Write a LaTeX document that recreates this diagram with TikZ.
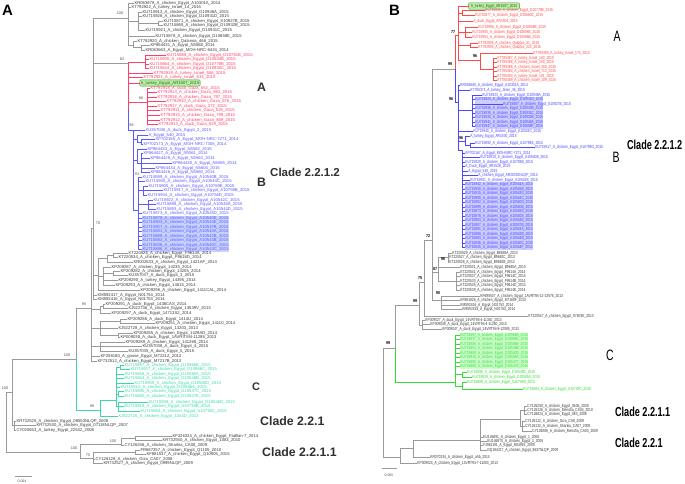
\documentclass[tikz,border=0pt]{standalone}
\usepackage{fontspec}
\setmainfont{Liberation Sans}
\definecolor{lgray}{HTML}{9A9A9A}
\definecolor{txk}{HTML}{3C3C3C}
\definecolor{rA}{HTML}{FF4068}
\definecolor{bA}{HTML}{5A5AFF}
\definecolor{gA}{HTML}{3ADBA6}
\definecolor{rB}{HTML}{FF4A4A}
\definecolor{bB}{HTML}{4848FF}
\definecolor{gB}{HTML}{33DD33}
\definecolor{hlb}{HTML}{C8D2FF}
\definecolor{hlbB}{HTML}{CDCDFF}
\definecolor{hlg}{HTML}{CCFFCC}
\definecolor{boxg}{HTML}{B7EFA3}
\definecolor{boxd}{HTML}{4E8A3A}
\definecolor{bst}{HTML}{505050}
\definecolor{cl}{HTML}{303030}
\tikzset{
 lkA/.style={draw=lgray,line width=0.35pt}, lrA/.style={draw=rA,line width=0.35pt},
 lbA/.style={draw=bA,line width=0.35pt}, lgA/.style={draw=gA,line width=0.35pt},
 lkB/.style={draw=lgray,line width=0.35pt}, lrB/.style={draw=rB,line width=0.35pt},
 lbB/.style={draw=bB,line width=0.35pt}, lgB/.style={draw=gB,line width=0.35pt},
 tA/.style={anchor=west,inner sep=0.3pt,font=\fontsize{4.2}{4.2}\selectfont},
 tB/.style={anchor=west,inner sep=0.3pt,font=\fontsize{4.4}{4.4}\selectfont,xscale=0.75},
 ckA/.style={text=txk}, crA/.style={text=rA}, cbA/.style={text=bA}, cgA/.style={text=gA},
 ckB/.style={text=txk}, crB/.style={text=rB}, cbB/.style={text=bB}, cgB/.style={text=gB},
 bsA/.style={font=\fontsize{3.8}{3.8}\selectfont,text=bst,inner sep=0pt},
 bsB/.style={font=\bfseries\fontsize{4.2}{4.2}\selectfont,text=black,inner sep=0pt,xscale=0.85},
 panel/.style={font=\bfseries\fontsize{15}{15}\selectfont,anchor=west,inner sep=0pt,text=black},
 cladeA/.style={font=\bfseries\fontsize{12.3}{12.3}\selectfont,text=cl,anchor=west,inner sep=0pt},
 cladeB/.style={font=\bfseries\fontsize{13}{13}\selectfont,xscale=0.7,anchor=west,inner sep=0pt,text=black},
 letB/.style={font=\fontsize{15}{15}\selectfont,xscale=0.7,inner sep=0pt,text=black},
 boxA/.style={fill=boxg,draw=boxd,line width=0.4pt,rounded corners=1pt,inner xsep=0.8pt,inner ysep=1.2pt,text=boxd!70!black,anchor=west},
}
\newcounter{lfn}
% #1 panel, #2 colour key, #3 parent x, #4 text x, #5 y, #6 text
\newcommand\tleaf[6]{\stepcounter{lfn}\coordinate (p\thelfn) at (#3,#5);\node[t#1,c#2#1] (l\thelfn) at (#4,#5) {#6};\draw[l#2#1] (p\thelfn) -- (l\thelfn.west);}
% #1 name, #2 style, #3 x, #4 y1, #5 y2
\newcommand\tver[5]{\coordinate (#1t) at (#3,#4);\coordinate (#1b) at (#3,#5);\draw[#2] (#1t) -- (#1b);}
% #1 name, #2 style, #3 x1, #4 x2, #5 y
\newcommand\thor[5]{\coordinate (#1a) at (#3,#5);\coordinate (#1c) at (#4,#5);\draw[#2] (#1a) -- (#1c);}
\catcode`\_=12
\begin{document}
\begin{tikzpicture}[x=1pt,y=-1pt]
\useasboundingbox[fill=white] (0,0) rectangle (685,483);
% ---------------- highlights
\fill[hlb] (141.5,215.8) rectangle (229,251.8);
\fill[hlbB] (474.5,97.3) rectangle (543,128.8);
\fill[hlbB] (464.5,182.3) rectangle (533,249.8);
\fill[hlg] (459.5,332.8) rectangle (528,368.8);
% ================= PANEL A =================
\node[panel] (pA) at (2,10.5) {A};
\tver{Ra}{lkA}{6}{392}{452}
\tver{Na}{lkA}{12}{359}{425}
\tver{Nk}{lkA}{14}{421}{430}
\tver{Nc}{lkA}{76}{308}{359}
\tver{Ncg}{lgA}{76}{359}{410}
\tver{N95}{lkA}{91}{228}{361}
\tver{N70}{lkA}{93}{18}{299.5}
\tver{NT}{lkA}{128}{3}{45}
\tver{n3}{lkA}{138}{12.5}{30}
\tver{n5}{lkA}{158}{21}{25}
\tver{n9}{lkA}{133}{41}{47.5}
\tver{n10}{lkA}{141}{45}{50}
\tver{NR}{lrA}{128}{62}{110}
\tver{NRb}{lbA}{128}{110}{130}
\tver{r1}{lrA}{145}{55}{68.5}
\tver{R86}{lrA}{147}{88}{124.5}
\tver{B96}{lbA}{133}{130}{210}
\tver{b2}{lbA}{137}{135}{141.75}
\tver{b3}{lbA}{141}{139.5}{144}
\tver{b4}{lbA}{137}{149}{163}
\tver{b5}{lbA}{141}{153.5}{172.5}
\tver{B91}{lbA}{138}{177}{249.5}
\tver{b6}{lbA}{143}{186}{195}
\tver{b7}{lbA}{148}{200}{209}
\tver{K1}{lkA}{98}{258}{290}
\tver{K2}{lkA}{107}{255}{262}
\tver{K3}{lkA}{113}{253}{257}
\tver{K4}{lkA}{103}{267}{285}
\tver{K5}{lkA}{113}{271}{275.5}
\tver{K6}{lkA}{100}{306}{313}
\tver{K7}{lkA}{103}{304}{308.5}
\tver{K8}{lkA}{100}{321}{335}
\tver{K9}{lkA}{120}{319}{323.5}
\tver{K10}{lkA}{118}{333}{337.5}
\tver{K11}{lkA}{100}{342}{351}
\tver{G98}{lgA}{100}{400}{416}
\tver{G1}{lgA}{116}{367}{406.5}
\tver{ga}{lgA}{120}{365}{369.5}
\tver{gb}{lgA}{118}{391.5}{396}
\tver{gc}{lgA}{118}{402}{411}
\tver{N2211}{lkA}{80}{444}{458}
\tver{Nu}{lkA}{121}{438}{445.5}
\tver{Nv}{lkA}{135}{436}{440.5}
\tver{N75}{lkA}{93}{452}{463.5}
\tver{Nw}{lkA}{135}{450}{454.5}
\thor{jRaNa}{lkA}{6}{12}{392}
\thor{jRaN2211}{lkA}{6}{80}{452}
\thor{jNaNk}{lkA}{12}{14}{425}
\thor{jNaNc}{lkA}{12}{76}{359}
\thor{jNcN95}{lkA}{76}{91}{308}
\thor{jNcG98}{lgA}{76}{100}{410}
\thor{jN95N70}{lkA}{91}{93}{228}
\thor{jN95K6}{lkA}{91}{100}{309}
\thor{jN95K8}{lkA}{91}{100}{328}
\thor{jN95K11}{lkA}{91}{100}{346.5}
\thor{jN70NT}{lkA}{93}{128}{18}
\thor{jN70NR}{lkA}{93}{128}{63}
\thor{jN70K1}{lkA}{93}{98}{275}
\thor{jNTn3}{lkA}{128}{138}{21}
\thor{jn3n5}{lkA}{138}{158}{23}
\thor{jNTn9}{lkA}{128}{133}{45}
\thor{jn9n10}{lkA}{133}{141}{47.5}
\thor{jNRr1}{lrA}{128}{145}{62}
\thor{jNRR86}{lrA}{128}{147}{102}
\thor{jNRB96}{lbA}{128}{133}{130}
\thor{jB96b2}{lbA}{133}{137}{139}
\thor{jb2b3}{lbA}{137}{141}{141.75}
\thor{jB96b4}{lbA}{133}{137}{160}
\thor{jb4b5}{lbA}{137}{141}{163}
\thor{jB96B91}{lbA}{133}{138}{210}
\thor{jB91b6}{lbA}{138}{143}{190.5}
\thor{jB91b7}{lbA}{138}{148}{204.5}
\thor{jK1K2}{lkA}{98}{107}{258}
\thor{jK2K3}{lkA}{107}{113}{255}
\thor{jK1K4}{lkA}{98}{103}{276}
\thor{jK4K5}{lkA}{103}{113}{273}
\thor{jK6K7}{lkA}{100}{103}{306}
\thor{jK8K9}{lkA}{100}{120}{321}
\thor{jK8K10}{lkA}{100}{118}{335}
\thor{jG98G1}{lgA}{100}{116}{400}
\thor{jG1ga}{lgA}{116}{120}{367}
\thor{jG1gb}{lgA}{116}{118}{394}
\thor{jG1gc}{lgA}{116}{118}{406.5}
\thor{jN2211Nu}{lkA}{80}{121}{444}
\thor{jNuNv}{lkA}{121}{135}{438}
\thor{jN2211N75}{lkA}{80}{93}{458}
\thor{jN75Nw}{lkA}{93}{135}{452}
% leaves A
\tleaf{A}{k}{128}{134}{3}{KR063678_A_chicken_Egypt_A10301A_2014}
\tleaf{A}{k}{128}{131}{7.5}{KT792922_A_turkey_Israel_14_2015}
\tleaf{A}{k}{138}{142}{12.5}{KU715913_A_chicken_Egypt_D10946A_2015}
\tleaf{A}{k}{138}{142}{16.5}{KU715926_A_chicken_Egypt_D10931D_2015}
\tleaf{A}{k}{158}{163}{21}{KU715871_A_chicken_Egypt_S10927B_2015}
\tleaf{A}{k}{158}{163}{25}{KU715865_A_chicken_Egypt_D10932B_2015}
\tleaf{A}{k}{138}{145}{30}{KU715921_A_chicken_Egypt_D10931C_2015}
\tleaf{A}{k}{128}{155}{36}{KU715878_A_chicken_Egypt_D10658E_2015}
\tleaf{A}{k}{133}{137}{41}{KT792920_A_chicken_Qalanna_466_2015}
\tleaf{A}{k}{141}{150}{45}{KP864431_A_Egypt_N5568_2014}
\tleaf{A}{k}{141}{145}{50}{KR063663_A_Egypt_MOH-NRC-8434_2014}
\tleaf{A}{r}{145}{166}{55}{KU715868_A_chicken_Egypt_D10781B_2015}
\tleaf{A}{r}{145}{149}{59.5}{KU715900_A_chicken_Egypt_D10534B_2015}
\tleaf{A}{r}{145}{149}{64}{KU715864_A_chicken_Egypt_D10778B_2015}
\tleaf{A}{r}{145}{149}{68.5}{KU715844_A_chicken_Egypt_D10930C_2015}
\tleaf{A}{r}{128}{153}{73}{KT792919_A_turkey_Israel_556_2015}
\tleaf{A}{r}{128}{143}{77.5}{KT792921_A_turkey_Israel_633_2015}
\coordinate (boxAp) at (128,83);
\node[tA,boxA] (boxAl) at (139.5,83) {A_turkey_Egypt_AR1507_2015};
\draw[lrA] (boxAp) -- (boxAl.west);
\tleaf{A}{r}{147}{150}{88}{KT792918_A_duck_Gaza_552_2015}
\tleaf{A}{r}{147}{157}{92.5}{KT792914_A_chicken_Gaza_863_2015}
\tleaf{A}{r}{147}{157}{97}{KT792916_A_chicken_Gaza_797_2015}
\tleaf{A}{r}{147}{166}{101.5}{KT792910_A_chicken_Gaza_876_2015}
\tleaf{A}{r}{147}{157}{106}{KT792917_A_duck_Gaza_372_2015}
\tleaf{A}{r}{147}{160}{110.5}{KT792911_A_chicken_Gaza_535_2015}
\tleaf{A}{r}{147}{160}{115}{KT792915_A_chicken_Gaza_799_2015}
\tleaf{A}{r}{147}{160}{120}{KT792912_A_chicken_Gaza_869_2015}
\tleaf{A}{r}{147}{158}{124.5}{KT792913_A_duck_Gaza_829_2015}
\tleaf{A}{b}{133}{145}{130}{KU357036_A_duck_Egypt_2_2015}
\tleaf{A}{b}{137}{148}{135}{A_Egypt_540_2015}
\tleaf{A}{b}{141}{155}{139.5}{KP702165_A_Egypt_MOH-NRC-7271_2014}
\tleaf{A}{b}{141}{143}{144}{KP702173_A_Egypt_MOH-NRC-7305_2014}
\tleaf{A}{b}{137}{147}{149}{KP864433_A_Egypt_N5562_2015}
\tleaf{A}{b}{141}{143}{153.5}{KP864427_A_Egypt_N5561_2014}
\tleaf{A}{b}{141}{150}{158}{KP864428_A_Egypt_N5563_2014}
\tleaf{A}{b}{141}{172}{163}{KP864430_A_Egypt_N5565_2014}
\tleaf{A}{b}{141}{155}{168}{KP864434_A_Egypt_N5604_2015}
\tleaf{A}{b}{141}{150}{172.5}{KP864426_A_Egypt_N5560_2014}
\tleaf{A}{b}{138}{142}{177}{KU715899_A_chicken_Egypt_A10540B_2015}
\tleaf{A}{b}{138}{145}{181.5}{KU715945_A_chicken_Egypt_A10544C_2015}
\tleaf{A}{b}{143}{148}{186}{KU715905_A_chicken_Egypt_A10769E_2015}
\tleaf{A}{b}{143}{163}{190.5}{KU715917_A_chicken_Egypt_A10758B_2015}
\tleaf{A}{b}{143}{147}{195}{KU715934_A_chicken_Egypt_A10756D_2015}
\tleaf{A}{b}{148}{153}{200}{KU715922_A_chicken_Egypt_A10542C_2015}
\tleaf{A}{b}{148}{156}{204.5}{KU715898_A_chicken_Egypt_A10545A_2015}
\tleaf{A}{b}{148}{156}{209}{KU715893_A_chicken_Egypt_A10544D_2015}
\tleaf{A}{b}{138}{142}{213.5}{KU715873_A_chicken_Egypt_A10545D_2015}
\tleaf{A}{b}{138}{142}{218}{KU715878_A_chicken_Egypt_A10540E_2015}
\tleaf{A}{b}{138}{142}{222.5}{KU715903_A_chicken_Egypt_A10544E_2015}
\tleaf{A}{b}{138}{142}{227}{KU715907_A_chicken_Egypt_A10537B_2015}
\tleaf{A}{b}{138}{142}{231.5}{KU715881_A_chicken_Egypt_A10543A_2015}
\tleaf{A}{b}{138}{142}{236}{KU715888_A_chicken_Egypt_A10542B_2015}
\tleaf{A}{b}{138}{142}{240.5}{KU715883_A_chicken_Egypt_A10544B_2015}
\tleaf{A}{b}{138}{142}{245}{KU715836_A_chicken_Egypt_A10540C_2015}
\tleaf{A}{b}{138}{142}{249.5}{KU715886_A_chicken_Egypt_A10543C_2015}
\tleaf{A}{k}{113}{128}{253}{KT220526_A_chicken_Egypt_F9614A_2014}
\tleaf{A}{k}{113}{118}{257}{KT220534_A_chicken_Egypt_F9616D_2014}
\tleaf{A}{k}{107}{133}{262}{KR002633_A_chicken_Egypt_1421AF_2014}
\tleaf{A}{k}{103}{111}{267}{KP209287_A_chicken_Egypt_14235_2014}
\tleaf{A}{k}{113}{120}{271}{KP209282_A_chicken_Egypt_14205_2014}
\tleaf{A}{k}{113}{128}{275.5}{KU357037_A_duck_Egypt_3_2015}
\tleaf{A}{k}{103}{118}{280}{KP209290_A_turkey_Egypt_14395_2014}
\tleaf{A}{k}{103}{115}{285}{KP209293_A_chicken_Egypt_14615_2014}
\tleaf{A}{k}{98}{140}{290}{KP209296_A_chicken_Egypt_1411CAL_2014}
\tleaf{A}{k}{93}{97}{295}{KM592417_A_Egypt_N01754_2014}
\tleaf{A}{k}{93}{97}{299.5}{KM592416_A_Egypt_N01753_2014}
\tleaf{A}{k}{103}{105}{304}{KP209291_A_duck_Egypt_1436CAS_2014}
\tleaf{A}{k}{103}{128}{308.5}{KJ522736_A_chicken_Egypt_13639V_2013}
\tleaf{A}{k}{100}{111}{313}{KP209297_A_duck_Egypt_14713S2_2014}
\tleaf{A}{k}{120}{127}{319}{KP209286_A_duck_Egypt_1414U_2014}
\tleaf{A}{k}{120}{155}{323.5}{KP209251_A_chicken_Egypt_14110_2014}
\tleaf{A}{k}{100}{118}{328}{KJ522728_A_chicken_Egypt_13203_2013}
\tleaf{A}{k}{118}{133}{333}{KP209285_A_chicken_Egypt_1429AD_2014}
\tleaf{A}{k}{118}{120}{337.5}{KP009038_A_duck_Egypt_1AVRITM4-11288_2013}
\tleaf{A}{k}{100}{125}{342}{KP209289_A_chicken_Egypt_141268_2014}
\tleaf{A}{k}{100}{142}{346.5}{KU357038_A_duck_Egypt_4_2015}
\tleaf{A}{k}{100}{128}{351}{KU357035_A_duck_Egypt_5_2015}
\tleaf{A}{k}{91}{100}{356.5}{KF258180_A_goose_Egypt_M7221Z_2013}
\tleaf{A}{k}{91}{97}{361}{KF732512_A_chicken_Egypt_M7217B_2013}
\tleaf{A}{g}{120}{124}{365}{KU715897_A_chicken_Egypt_D10966E_2015}
\tleaf{A}{g}{120}{130}{369.5}{KU715937_A_chicken_Egypt_D10966C_2015}
\tleaf{A}{g}{116}{124}{374}{KU715858_A_chicken_Egypt_D10585A_2015}
\tleaf{A}{g}{116}{124}{378.5}{KU715854_A_chicken_Egypt_D10548B_2015}
\tleaf{A}{g}{116}{134}{383}{KU715909_A_chicken_Egypt_D10580D_2015}
\tleaf{A}{g}{116}{120}{387.5}{KU715910_A_chicken_Egypt_D10586A_2015}
\tleaf{A}{g}{118}{124}{391.5}{KU715890_A_chicken_Egypt_D10547C_2015}
\tleaf{A}{g}{118}{124}{396}{KU715860_A_chicken_Egypt_D10547E_2015}
\tleaf{A}{g}{118}{148}{402}{KU715938_A_chicken_Egypt_D10546D_2015}
\tleaf{A}{g}{118}{124}{406.5}{KU715919_A_chicken_Egypt_S10738B_2015}
\tleaf{A}{g}{118}{140}{411}{KU715884_A_chicken_Egypt_S10736C_2015}
\tleaf{A}{g}{100}{118}{416}{KJ522726_A_chicken_Egypt_1344D_2013}
\tleaf{A}{k}{14}{16}{421}{KR732525_A_chicken_Egypt_08553NLQP_2008}
\tleaf{A}{k}{14}{36}{425.5}{KR732530_A_chicken_Egypt_07118NLQP_2007}
\tleaf{A}{k}{14}{16}{430}{CY020653_A_turkey_Egypt_22532_2008}
\tleaf{A}{k}{135}{172}{436}{KF326324_A_chicken_Egypt_Fadllan-7_2014}
\tleaf{A}{k}{135}{162}{440.5}{KR732550_A_chicken_Egypt_1083_2010}
\tleaf{A}{k}{121}{124}{445.5}{CY126256_A_chicken_Sharkia_CA08_2009}
\tleaf{A}{k}{135}{140}{450}{FR687257_A_chicken_Egypt_Q1105_2010}
\tleaf{A}{k}{135}{146}{454.5}{KF881537_A_chicken_Egypt_Q10905_2015}
\tleaf{A}{k}{93}{95}{459}{CY126128_A_chicken_Giza_CA07_2008}
\tleaf{A}{k}{93}{103}{463.5}{KR732527_A_chicken_Egypt_0999NLQP_2009}
% bootstrap A
\node[bsA] (ba1) at (120,13) {100};
\node[bsA] (ba2) at (122,59) {82};
\node[bsA] (ba3) at (141,98) {86};
\node[bsA] (ba4) at (131.5,125.5) {96};
\node[bsA] (ba5) at (137,174) {91};
\node[bsA] (ba6) at (98,223) {70};
\node[bsA] (ba7) at (84,304) {95};
\node[bsA] (ba8) at (67,355) {100};
\node[bsA] (ba9) at (5,388) {100};
\node[bsA] (ba10) at (92,406) {98};
\node[bsA] (ba11) at (113,441) {100};
\node[bsA] (ba12) at (74,448) {100};
\node[bsA] (ba13) at (88,455) {75};
% clade labels A
\node[cladeA] (cA) at (257,87.5) {A};
\node[cladeA] (cB) at (257,182) {B};
\node[cladeA,font=\bfseries\fontsize{11.5}{11.5}\selectfont] (c2212) at (270,172) {Clade 2.2.1.2};
\node[cladeA,font=\bfseries\fontsize{11}{11}\selectfont] (cC) at (252,387) {C};
\node[cladeA] (c221) at (260,421.5) {Clade 2.2.1};
\node[cladeA] (c2211) at (262,452) {Clade 2.2.1.1};
% scale bar A
\coordinate (sA1) at (15,476); \coordinate (sA2) at (32,476);
\draw[lkA,line width=0.5pt] (sA1) -- (sA2);
\node[bsA,font=\fontsize{3.5}{3.5}\selectfont] (sAt) at (22,481) {0.004};
% ================= PANEL B =================
\node[panel] (pB) at (389,10.5) {B};
\tver{RtB}{lkB}{383}{348}{457}
\tver{N1}{lkB}{395}{305}{348}
\tver{N1g}{lgB}{395}{348}{382}
\tver{N2}{lkB}{419}{282}{325}
\tver{N3}{lkB}{424}{240}{316}
\tver{N4}{lkB}{432}{69}{300}
\tver{RBr}{lrB}{455}{35}{69}
\tver{RBb}{lbB}{455}{69}{102}
\tver{R77}{lrB}{458}{6}{60}
\tver{r1B}{lrB}{462}{10.5}{15}
\tver{r2B}{lrB}{465}{27}{37}
\tver{rqB}{lrB}{470}{43}{47.5}
\tver{R96r}{lrB}{480}{53.5}{69}
\tver{riB}{lrB}{493}{58}{80.5}
\tver{B96B}{lbB}{458}{85}{150}
\tver{bb1}{lbB}{472}{95}{126.5}
\tver{b96b}{lbB}{465}{136.5}{145.25}
\tver{bb2}{lbB}{470}{143}{147.5}
\tver{BL}{lbB}{462}{150}{247.5}
\tver{n87}{lkB}{438}{257.5}{281}
\tver{n96k}{lkB}{448}{253}{262}
\tver{nF}{lkB}{456}{272}{290}
\tver{n90}{lkB}{441}{296}{309.5}
\tver{Nd}{lkB}{422}{320}{329}
\tver{Gg}{lgB}{455}{335}{386}
\tver{g1}{lgB}{462}{372}{377}
\tver{g2}{lgB}{462}{382}{389.5}
\tver{M1}{lkB}{400}{448}{463}
\tver{M2}{lkB}{413}{440}{457}
\tver{M3}{lkB}{480}{419}{450}
\tver{M4}{lkB}{520}{410}{426}
\tver{M5}{lkB}{524}{406}{414}
\tver{M6}{lkB}{522}{421}{431}
\thor{kRtN1}{lkB}{383}{395}{348}
\thor{kRtM1}{lkB}{383}{400}{457}
\thor{kN1N2}{lkB}{395}{419}{305}
\thor{kN1G}{lgB}{395}{455}{382}
\thor{kN2N3}{lkB}{419}{424}{282}
\thor{kN2Nd}{lkB}{419}{422}{325}
\thor{kN3N4}{lkB}{424}{432}{240}
\thor{kN4RB}{lkB}{432}{455}{69}
\thor{kN4n87}{lkB}{432}{438}{272}
\thor{kN4n90}{lkB}{432}{441}{300}
\thor{kRBR77}{lrB}{455}{458}{35}
\thor{kRBB96}{lbB}{455}{458}{102}
\thor{kR77r1}{lrB}{458}{462}{12.75}
\thor{kR77r2}{lrB}{458}{465}{32}
\thor{kR77rq}{lrB}{458}{470}{45.25}
\thor{kR77R96}{lrB}{458}{480}{60}
\thor{kR96ri}{lrB}{480}{493}{69}
\thor{kB96bb1}{lbB}{458}{472}{110}
\thor{kB96b96}{lbB}{458}{465}{141}
\thor{kb96bb2}{lbB}{465}{470}{145.25}
\thor{kB96BL}{lbB}{458}{462}{150}
\thor{kn87n96}{lkB}{438}{448}{257.5}
\thor{kn87nF}{lkB}{438}{456}{281}
\thor{kGg1}{lgB}{455}{462}{374.5}
\thor{kGg2}{lgB}{455}{462}{386}
\thor{kM1M2}{lkB}{400}{413}{448}
\thor{kM2M3}{lkB}{413}{480}{440}
\thor{kM3M4}{lkB}{480}{520}{419}
\thor{kM4M5}{lkB}{520}{524}{410}
\thor{kM4M6}{lkB}{520}{522}{426}
% leaves B
\coordinate (boxBp) at (458,6);
\node[tB,boxA,inner xsep=3pt] (boxBl) at (468.5,6) {A_turkey_Egypt_AR1507_2015};
\draw[lrB] (boxBp) -- (boxBl.west);
\tleaf{B}{r}{462}{485}{10.5}{KU715926_A_chicken_Egypt_D10778B_2015}
\tleaf{B}{r}{462}{475}{15}{KU715877_A_chicken_Egypt_D10660C_2015}
\tleaf{B}{r}{458}{473}{21.5}{A_duck_Egypt_AR1504_2015}
\tleaf{B}{r}{465}{478}{27}{KU715906_A_chicken_Egypt_D10659E_2015}
\tleaf{B}{r}{465}{472}{32.5}{KU715905_A_chicken_Egypt_D10658E_2015}
\tleaf{B}{r}{465}{472}{37}{KU715903_A_chicken_Egypt_D10586B_2015}
\tleaf{B}{r}{470}{478}{43}{KT792905_A_chicken_Qalqilya_31_2015}
\tleaf{B}{r}{470}{478}{47.5}{KT792906_A_chicken_Qalqilya_222_2015}
\tleaf{B}{r}{480}{533}{53.5}{KT785385_A_turkey_Israel_174_2015}
\tleaf{B}{r}{493}{497}{58}{KT785387_A_turkey_Israel_160_2015}
\tleaf{B}{r}{493}{497}{62.5}{KT785388_A_turkey_Israel_209_2015}
\tleaf{B}{r}{493}{497}{67}{KT785386_A_chicken_Israel_260_2015}
\tleaf{B}{r}{493}{497}{71.5}{KT785384_A_chicken_Israel_712_2015}
\tleaf{B}{r}{493}{497}{76}{KT785390_A_turkey_Israel_101_2015}
\tleaf{B}{r}{493}{497}{80.5}{KT785389_A_chicken_Israel_109_2015}
\tleaf{B}{b}{458}{460}{85}{KR063660_A_chicken_Egypt_A10301A_2014}
\tleaf{B}{b}{458}{470}{90}{KT785371_A_turkey_Jenin_36_2015}
\tleaf{B}{b}{472}{482}{95}{KU715923_A_chicken_Egypt_D10948A_2015}
\tleaf{B}{b}{472}{475}{99.5}{KU715924_A_chicken_Egypt_D10931D_2015}
\tleaf{B}{b}{472}{503}{104}{KU715887_A_chicken_Egypt_S10927B_2015}
\tleaf{B}{b}{472}{475}{108.5}{KU715936_A_chicken_Egypt_D10933B_2015}
\tleaf{B}{b}{472}{475}{113}{KU715935_A_chicken_Egypt_D10931C_2015}
\tleaf{B}{b}{472}{475}{117.5}{KU715933_A_chicken_Egypt_D10932B_2015}
\tleaf{B}{b}{472}{475}{122}{KU715941_A_chicken_Egypt_D10946A_2015}
\tleaf{B}{b}{472}{475}{126.5}{KU715947_A_chicken_Egypt_D10658F_2015}
\tleaf{B}{b}{458}{473}{131}{KU715940_A_chicken_Egypt_A10543C_2015}
\tleaf{B}{b}{465}{470}{136.5}{A_turkey_Egypt_AR1530_2015}
\tleaf{B}{b}{470}{475}{143}{KU715892_A_chicken_Egypt_A10758E_2015}
\tleaf{B}{b}{470}{535}{147.5}{KU715917_A_chicken_Egypt_A10759D_2015}
\tleaf{B}{b}{462}{465}{153}{KP702167_A_Egypt_MOH-NRC-7271_2014}
\tleaf{B}{b}{462}{480}{157.5}{KU715910_A_chicken_Egypt_A10540B_2015}
\tleaf{B}{b}{462}{465}{162}{KU715920_A_chicken_Egypt_A10759B_2015}
\tleaf{B}{b}{462}{465}{166.5}{A_Duck_Egypt_AR1528_2015}
\tleaf{B}{b}{462}{468}{171}{A_Egypt_540_2015}
\tleaf{B}{b}{462}{478}{175.5}{A_chicken_Egypt_AR20352NLQP_2014}
\tleaf{B}{b}{462}{470}{180}{KU715901_A_chicken_Egypt_A10542B_2015}
\tleaf{B}{b}{462}{465}{184.5}{KU715942_A_chicken_Egypt_A10544A_2015}
\tleaf{B}{b}{462}{465}{189}{KU715930_A_chicken_Egypt_A10545B_2015}
\tleaf{B}{b}{462}{465}{193.5}{KU715915_A_chicken_Egypt_A10543D_2015}
\tleaf{B}{b}{462}{465}{198}{KU715908_A_chicken_Egypt_A10544C_2015}
\tleaf{B}{b}{462}{465}{202.5}{KU715902_A_chicken_Egypt_A10540D_2015}
\tleaf{B}{b}{462}{465}{207}{KU715899_A_chicken_Egypt_A10540B_2015}
\tleaf{B}{b}{462}{465}{211.5}{KU715873_A_chicken_Egypt_A10545D_2015}
\tleaf{B}{b}{462}{465}{216}{KU715878_A_chicken_Egypt_A10540E_2015}
\tleaf{B}{b}{462}{465}{220.5}{KU715903_A_chicken_Egypt_A10544E_2015}
\tleaf{B}{b}{462}{465}{225}{KU715907_A_chicken_Egypt_A10537B_2015}
\tleaf{B}{b}{462}{465}{229.5}{KU715881_A_chicken_Egypt_A10543A_2015}
\tleaf{B}{b}{462}{465}{234}{KU715888_A_chicken_Egypt_A10542B_2015}
\tleaf{B}{b}{462}{465}{238.5}{KU715883_A_chicken_Egypt_A10544B_2015}
\tleaf{B}{b}{462}{465}{243}{KU715836_A_chicken_Egypt_A10540C_2015}
\tleaf{B}{b}{462}{465}{247.5}{KU715845_A_chicken_Egypt_S10544F_2014}
\tleaf{B}{k}{448}{452}{253}{KT220529_A_chicken_Egypt_B9638A_2013}
\tleaf{B}{k}{448}{449}{257.5}{KT220527_A_chicken_Egypt_B9640C_2013}
\tleaf{B}{k}{448}{449}{262}{KT220528_A_chicken_Egypt_B9640B_2013}
\tleaf{B}{k}{438}{460}{267.5}{KT220531_A_chicken_Egypt_B9640A_2013}
\tleaf{B}{k}{456}{460}{272}{KT220541_A_chicken_Egypt_F9614A_2014}
\tleaf{B}{k}{456}{460}{276.5}{KT220537_A_chicken_Egypt_F9614C_2014}
\tleaf{B}{k}{456}{460}{281}{KT220533_A_chicken_Egypt_F9614B_2014}
\tleaf{B}{k}{456}{460}{285.5}{KT220535_A_chicken_Egypt_F9614D_2014}
\tleaf{B}{k}{456}{460}{290}{KT220539_A_chicken_Egypt_F9614E_2014}
\tleaf{B}{k}{441}{480}{296}{KF695537_A_chicken_Egypt_1AVRT94-12-13576_2013}
\tleaf{B}{k}{441}{460}{300.5}{KF881826_A_chicken_Egypt_M7168F_2013}
\tleaf{B}{k}{441}{460}{305}{KM592416_A_Egypt_N01753_2014}
\tleaf{B}{k}{441}{462}{309.5}{KM592418_A_Egypt_N01754_2014}
\tleaf{B}{k}{424}{528}{316}{KT220547_A_chicken_Egypt_S7603E_2013}
\tleaf{B}{k}{422}{425}{320}{KP009027_A_duck_Egypt_14VRT94-4-11340_2013}
\tleaf{B}{k}{422}{430}{324.5}{KP009049_A_duck_Egypt_14VRT94-4-11250_2013}
\tleaf{B}{k}{422}{442}{329}{KP009047_A_duck_Egypt_14VRT94-9-12085_2013}
\tleaf{B}{g}{455}{460}{335}{KU715897_A_chicken_Egypt_D10966E_2015}
\tleaf{B}{g}{455}{460}{339.5}{KU715937_A_chicken_Egypt_D10966C_2015}
\tleaf{B}{g}{455}{460}{344}{KU715858_A_chicken_Egypt_D10585B_2015}
\tleaf{B}{g}{455}{460}{348.5}{KU715854_A_chicken_Egypt_D10548B_2015}
\tleaf{B}{g}{455}{460}{353}{KU715909_A_chicken_Egypt_D10580D_2015}
\tleaf{B}{g}{455}{460}{357.5}{KU715910_A_chicken_Egypt_D10586A_2015}
\tleaf{B}{g}{455}{460}{362}{KU715890_A_chicken_Egypt_D10547C_2015}
\tleaf{B}{g}{455}{460}{366.5}{KU715860_A_chicken_Egypt_D10547E_2015}
\tleaf{B}{g}{462}{467}{372}{KU715896_A_chicken_Egypt_D10549D_2015}
\tleaf{B}{g}{462}{472}{377}{KU715929_A_chicken_Egypt_D10585A_2015}
\tleaf{B}{g}{462}{467}{382}{KU715888_A_chicken_Egypt_S10738B_2015}
\tleaf{B}{g}{462}{523}{389.5}{KU715884_A_chicken_Egypt_S10739C_2015}
\tleaf{B}{k}{524}{527}{406}{CY126250_A_chicken_Egypt_0636_2008}
\tleaf{B}{k}{524}{527}{410}{CY126126_A_chicken_Menofia_CA04_2010}
\tleaf{B}{k}{524}{527}{414}{CY146824_A_chicken_Egypt_063_2008}
\tleaf{B}{k}{522}{525}{421}{CY126122_A_chicken_Giza_CA8_2009}
\tleaf{B}{k}{522}{525}{426}{CY126132_A_chicken_Sharkia_CA07_2009}
\tleaf{B}{k}{522}{532}{431}{CY126086_A_chicken_Menofia_CA03_2009}
\tleaf{B}{k}{480}{483}{437}{EU146891_A_chicken_Egypt_1_2006}
\tleaf{B}{k}{480}{487}{441}{EU146870_A_chicken_Egypt_2_2006}
\tleaf{B}{k}{480}{483}{445.5}{FJ861191_A_Egypt_N04915_2009}
\tleaf{B}{k}{480}{487}{450}{GQ184217_A_chicken_Egypt_9637NLQP_2009}
\tleaf{B}{k}{413}{430}{457}{KR070334_A_chicken_Egypt_ahb_2014}
\tleaf{B}{k}{400}{417}{463}{KP009024_A_chicken_Egypt_14VRT94-7-11003_2013}
% bootstrap B
\node[bsB] (bb1) at (388,343) {99};
\node[bsB] (bb2) at (415,301) {99};
\node[bsB] (bb3) at (420,278) {75};
\node[bsB] (bb4) at (428,236) {72};
\node[bsB] (bb5) at (443,259) {96};
\node[bsB] (bb6) at (435,269) {87};
\node[bsB] (bb7) at (438,293) {90};
\node[bsB] (bb8) at (450,64) {99};
\node[bsB] (bb9) at (453,32) {77};
\node[bsB] (bb10) at (475,56) {96};
\node[bsB] (bb11) at (451,99) {96};
\node[bsB] (bb12) at (461,138) {96};
% clade labels B
\node[letB] (bA) at (617,36) {A};
\node[letB] (bB) at (616,157) {B};
\node[letB] (bC) at (610,355) {C};
\node[cladeB] (b2212) at (627,145) {Clade 2.2.1.2};
\node[cladeB] (b2211) at (615,412) {Clade 2.2.1.1};
\node[cladeB] (b221) at (615,442.5) {Clade 2.2.1};
% scale bar B
\coordinate (sB1) at (382,468); \coordinate (sB2) at (397,468);
\draw[lkB,line width=0.5pt] (sB1) -- (sB2);
\node[bsA,font=\fontsize{3.5}{3.5}\selectfont] (sBt) at (389,475) {0.005};
\end{tikzpicture}
\end{document}
